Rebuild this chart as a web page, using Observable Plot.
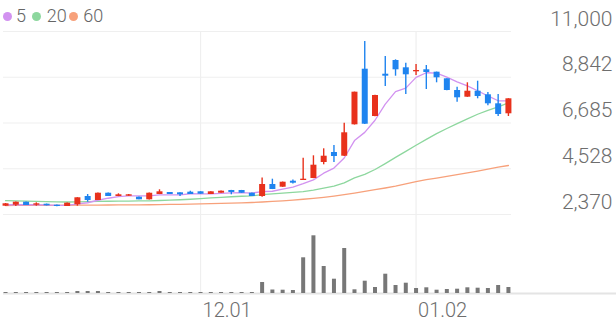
<!DOCTYPE html>
<html>
<head>
<meta charset="utf-8">
<script src="https://cdn.jsdelivr.net/npm/d3@7"></script>
<script src="https://cdn.jsdelivr.net/npm/@observablehq/plot@0.6"></script>
<style>
  html, body { margin: 0; padding: 0; background: #fff; }
  #wrap { position: relative; width: 616px; height: 321px; font-family: Roboto, sans-serif; overflow: hidden; }
  #wrap svg { display: block; }
  .lg-dot { position: absolute; width: 9px; height: 9px; border-radius: 50%; top: 11.7px; }
  .lg-txt { position: absolute; top: 6.5px; font-size: 18px; line-height: 18px; color: #666; font-weight: 300; }
</style>
</head>
<body>
<div id="wrap">
  <div id="price"></div>
  <div id="vol"></div>
  <div id="legend"></div>
</div>
<script>
// ---- data ----
const openP  = [2761,2809,2950,2809,2856,2809,2747,2827,3219,3030, 3374,3219,3233,3186,3063,3313,3407,3393,3422,3440, 3313,3374,3502,3502,3374,3219,3785,3657,3940,3973, 4068,4822,5294,5119,6600,9222,6991,8986,9632,9288, 9099,9194,9081,8769,8218,7902,8184,8015,7590,7119];
const highP  = [2890,2955,2955,2920,2862,2815,2908,3162,3313,3380, 3380,3346,3310,3190,3380,3535,3412,3396,3469,3445, 3445,3474,3508,3506,3380,4091,4035,3900,3997,5025, 5138,5468,5624,6675,8142,10528,7990,9821,9665,9505, 9444,9397,9085,8775,8373,8581,8656,8123,8029,7830];
const lowP   = [2750,2747,2790,2761,2775,2740,2742,2761,2950,3025, 3215,3215,3225,3060,3058,3310,3310,3219,3310,3322, 3310,3370,3299,3370,3215,3186,3545,3650,3808,3968, 4060,4714,4822,5110,6590,6620,6985,8406,8892,8029, 8925,8265,8581,8210,7666,7895,7826,7500,6991,6991];
const closeP = [2875,2950,2794,2875,2780,2747,2903,3158,3030,3374, 3219,3299,3299,3063,3374,3440,3313,3299,3313,3327, 3440,3469,3407,3374,3219,3785,3549,3893,3846,4035, 4695,5119,5105,6223,8138,6628,7982,8892,9194,8958, 9160,9066,8817,8218,7873,8184,7934,7590,7086,7826];
const volume = [10,10,10,10,10,10,10,20,20,20, 10,10,10,10,10,20,10,10,10,10, 10,10,10,10,10,110,35,33,30,357, 577,270,143,450,37,123,60,193,80,103, 50,57,33,40,43,57,53,50,80,60];
const ma5  = [2830,2840,2830,2830,2820,2800,2800,2870,2924,3042, 3137,3216,3244,3251,3251,3295,3298,3298,3348,3338, 3338,3370,3391,3403,3382,3451,3467,3564,3658,3822, 4004,4318,4560,5035,5856,6243,6815,7573,8167,8331, 8837,9054,9039,8844,8627,8432,8205,7960,7733,7724];
const ma20 = [3020,3010,3000,2990,2980,2970,2960,2965,2975,2985, 2995,3000,3005,3010,3015,3030,3045,3065,3090,3115, 3150,3176,3206,3231,3253,3305,3338,3374,3415,3448, 3522,3613,3703,3861,4099,4259,4492,4772,5066,5348, 5634,5913,6184,6426,6659,6879,7098,7283,7445,7634];
const ma60 = [2794,2796,2798,2800,2802,2804,2807,2810,2813,2816, 2818,2821,2824,2827,2830,2834,2843,2852,2861,2870, 2882,2895,2908,2922,2936,2960,2985,3015,3050,3090, 3130,3180,3240,3310,3380,3460,3540,3620,3710,3815, 3920,4010,4090,4170,4250,4330,4420,4510,4600,4680];

const dateTickIndex  = [19, 40];
const dateTickLabels = ["12.01", "01.02"];
const priceTicks      = [2370, 4528, 6685, 8842, 11000];
const priceTickLabels = ["2,370", "4,528", "6,685", "8,842", "11,000"];
const maNames  = ["5", "20", "60"];
const maColors = ["#d292f0", "#8dd79e", "#f7a17b"];

// ---- styles / layout ----
const UP = "#e8311c", DOWN = "#1f84ef";
const GRID = "#efefef", TEXT = "#6e6e6e";
const pxPerDay = 508 / 49.5;
const xDomainPrice = [-0.2, 49.3];
const xDomainVol = [-0.2, -0.2 + 613 / pxPerDay];

const candles = openP.map((o, i) => ({
  i, open: o, high: highP[i], low: lowP[i], close: closeP[i], up: closeP[i] >= o
}));
const vols = volume.map((v, i) => ({ i, v }));
const maSeries = [ma60, ma20, ma5].map((arr, k) => ({ arr, color: maColors[2 - k] }));

const pricePlot = Plot.plot({
  width: 616, height: 225,
  marginLeft: 3, marginRight: 105, marginTop: 31, marginBottom: 0,
  style: { fontFamily: "Roboto, sans-serif", background: "transparent" },
  x: { type: "linear", domain: xDomainPrice, axis: null },
  y: { domain: [2370, 11000], range: [214, 31], axis: null },
  marks: [
    Plot.ruleY(priceTicks, { stroke: GRID, strokeWidth: 1.2 }),
    Plot.ruleX(dateTickIndex, { stroke: GRID, strokeWidth: 1.2 }),
    Plot.axisY(priceTicks, {
      anchor: "right", tickSize: 0, tickPadding: 0, label: null,
      tickFormat: d => priceTickLabels[priceTicks.indexOf(d)],
      textAnchor: "end", dx: 101, dy: -12.5,
      fontSize: 21, fontWeight: 300, fill: TEXT
    }),
    ...maSeries.map(s => Plot.lineY(s.arr, {
      x: (d, i) => i, y: d => d, stroke: s.color, strokeWidth: 1.3
    })),
    Plot.ruleX(candles, {
      x: "i", y1: "low", y2: "high",
      stroke: d => d.up ? UP : DOWN, strokeWidth: 1.4
    }),
    Plot.ruleX(candles, {
      x: "i", y1: "open", y2: "close",
      stroke: d => d.up ? UP : DOWN, strokeWidth: 6
    })
  ]
});

const volPlot = Plot.plot({
  width: 616, height: 96,
  marginLeft: 3, marginRight: 0, marginTop: 0, marginBottom: 28,
  style: { fontFamily: "Roboto, sans-serif", background: "transparent", overflow: "visible" },
  x: { type: "linear", domain: xDomainVol, axis: null, label: null },
  y: { domain: [0, 640], range: [68, 4], axis: null, label: null },
  marks: [
    Plot.ruleX(dateTickIndex, { stroke: GRID, strokeWidth: 1.2 }),
    Plot.ruleY([0], { stroke: "#e4e4e4", strokeWidth: 2 }),
    Plot.ruleX(vols, { x: "i", y1: 0, y2: "v", stroke: "#777", strokeWidth: 4 }),
    Plot.axisX(dateTickIndex, {
      anchor: "bottom", tickSize: 0, tickPadding: 9, label: null,
      tickFormat: d => dateTickLabels[dateTickIndex.indexOf(d)],
      textAnchor: "start", dx: 2,
      fontSize: 20, fontWeight: 300, fill: TEXT
    })
  ]
});

document.getElementById("price").appendChild(pricePlot);
document.getElementById("vol").appendChild(volPlot);

// legend
const legend = document.getElementById("legend");
const dotLeft = [2.7, 32.3, 69.3];
const txtLeft = [16, 46.7, 83.3];
maNames.forEach((name, k) => {
  const dot = document.createElement("div");
  dot.className = "lg-dot";
  dot.style.left = dotLeft[k] + "px";
  dot.style.background = maColors[k];
  legend.appendChild(dot);
  const t = document.createElement("div");
  t.className = "lg-txt";
  t.style.left = txtLeft[k] + "px";
  t.textContent = name;
  legend.appendChild(t);
});
</script>
</body>
</html>
